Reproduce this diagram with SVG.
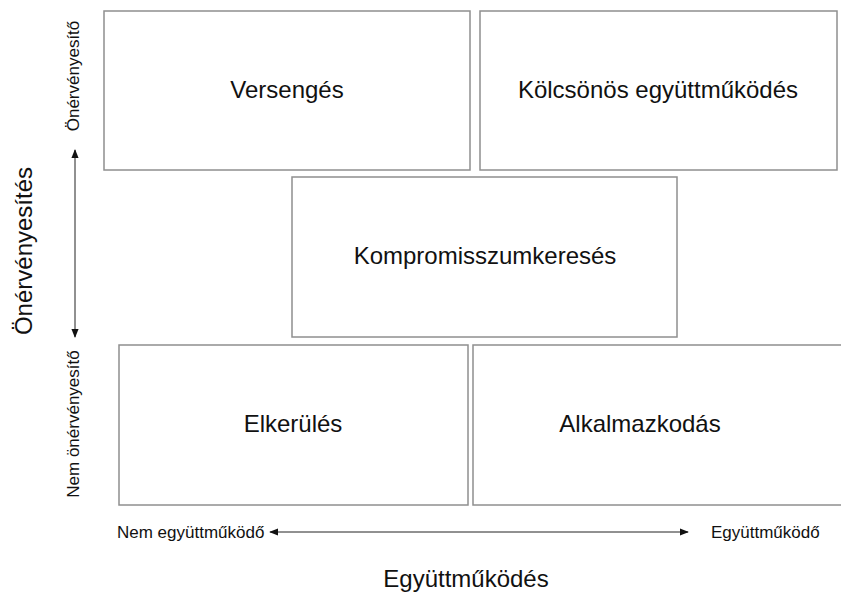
<svg xmlns="http://www.w3.org/2000/svg" width="841" height="592" viewBox="0 0 841 592">
<style>
.box{fill:#fff;stroke:#8f8f8f;stroke-width:1.5}
.lbl{font-family:"Liberation Sans",Arial,sans-serif;font-size:24px;fill:#111;text-anchor:middle}
.sm{font-family:"Liberation Sans",Arial,sans-serif;font-size:17px;fill:#111}
.big{font-family:"Liberation Sans",Arial,sans-serif;font-size:24px;fill:#111;text-anchor:middle}
.ax{stroke:#222;stroke-width:1;fill:none}
</style>
<defs>
<marker id="ah" viewBox="0 0 10 10" refX="9" refY="5" markerWidth="9" markerHeight="9" markerUnits="userSpaceOnUse" orient="auto-start-reverse">
<path d="M0,1 L10,5 L0,9 Z" fill="#111"/>
</marker>
</defs>
<rect width="841" height="592" fill="#fff"/>
<g id="versenges"><rect class="box" x="104" y="11" width="366" height="159"/><text class="lbl" x="287" y="98">Versengés</text></g>
<g id="kolcsonos"><rect class="box" x="480" y="11" width="357" height="159"/><text class="lbl" x="658" y="98">Kölcsönös együttműködés</text></g>
<g id="kompromisszum"><rect class="box" x="292" y="177" width="385" height="160"/><text class="lbl" x="485" y="264">Kompromisszumkeresés</text></g>
<g id="elkerules"><rect class="box" x="119" y="345" width="349" height="160"/><text class="lbl" x="293" y="432">Elkerülés</text></g>
<g id="alkalmazkodas"><rect class="box" x="473" y="345" width="372" height="160"/><text class="lbl" x="640" y="432">Alkalmazkodás</text></g>
<g id="connectors">
<line class="ax" x1="75" y1="150" x2="75" y2="337" marker-start="url(#ah)" marker-end="url(#ah)"/>
<line class="ax" x1="270" y1="532" x2="688" y2="532" marker-start="url(#ah)" marker-end="url(#ah)"/>
</g>
<g id="axis-labels">
<text class="sm" text-anchor="middle" transform="translate(79,76) rotate(-90)">Önérvényesítő</text>
<text class="sm" text-anchor="middle" transform="translate(79,424) rotate(-90)">Nem önérvényesítő</text>
<text class="big" transform="translate(32,251) rotate(-90)">Önérvényesítés</text>
<text class="sm" x="117" y="538">Nem együttműködő</text>
<text class="sm" x="711" y="538">Együttműködő</text>
<text class="big" x="466" y="587">Együttműködés</text>
</g>
</svg>
